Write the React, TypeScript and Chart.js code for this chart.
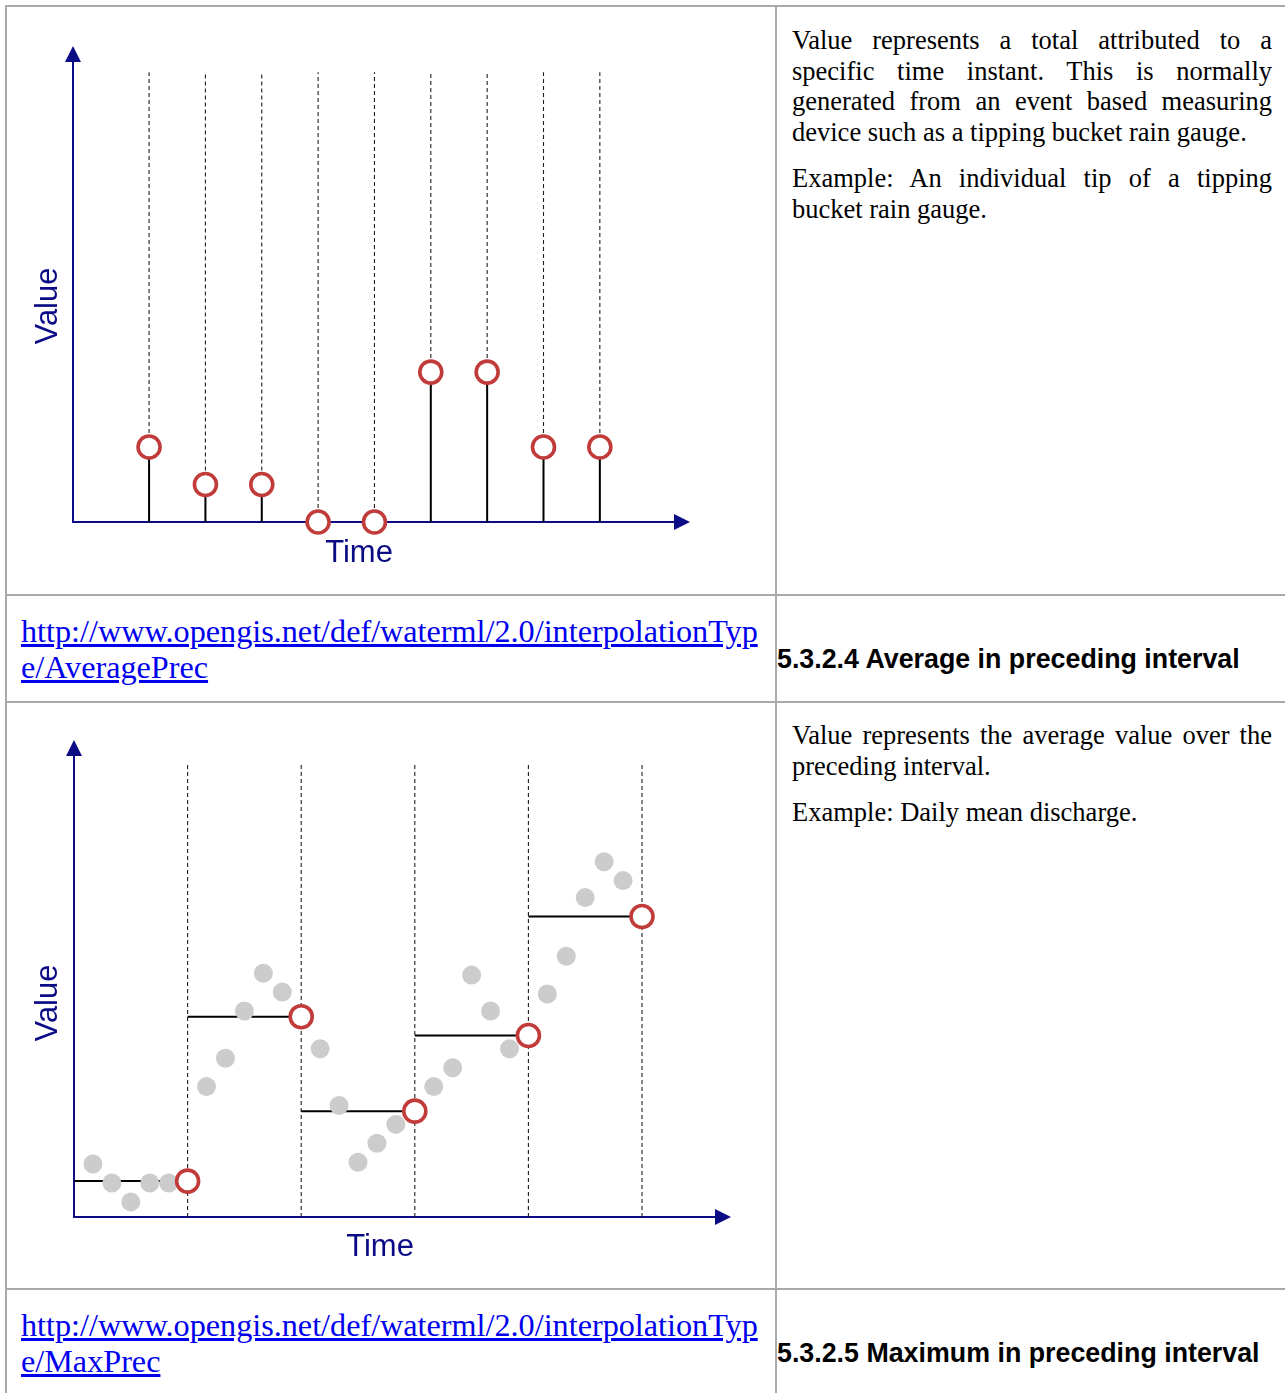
import React, { useEffect, useRef } from "react";
import { Chart, registerables } from "chart.js";

Chart.register(...registerables);

// ---------- Chart 1: instantaneous totals ----------
const tipTimes = [1, 2, 3, 4, 5, 6, 7, 8, 9];
const tipTotals = [2, 1, 1, 0, 0, 4, 4, 2, 2];
const tipGuideTop = 12;

// ---------- Chart 2: average in preceding interval ----------
const sampleTimes = [
  1, 2, 3, 4, 5,
  7, 8, 9, 10, 11,
  13, 14, 15, 16, 17,
  19, 20, 21, 22, 23,
  25, 26, 27, 28, 29,
];
const sampleValues = [
  2.8, 1.8, 0.8, 1.8, 1.8,
  6.9, 8.4, 10.9, 12.9, 11.9,
  8.9, 5.9, 2.9, 3.9, 4.9,
  6.9, 7.9, 12.8, 10.9, 8.9,
  11.8, 13.8, 16.9, 18.8, 17.8,
];
const intervalStarts = [0, 6, 12, 18, 24];
const intervalEnds = [6, 12, 18, 24, 30];
const intervalAverages = [1.9, 10.6, 5.6, 9.6, 15.9];
const intervalGuideTop = 24;

const axisTitleX = "Time";
const axisTitleY = "Value";

const SERIF = "'Liberation Serif', 'Times New Roman', serif";
const SANS = "'Liberation Sans', Arial, sans-serif";
const AXIS_COLOR = "#0b0b86";
const RED = "#c23b3b";
const BORDER = "#a9a9a9";
const GUIDE = "#1e1e1e";

const arrowAxesPlugin = {
  id: "arrowAxes",
  beforeDatasetsDraw(chart: any, _args: any, opts: any) {
    const { ctx, chartArea } = chart;
    const { left, top, right, bottom } = chartArea;
    ctx.save();
    ctx.strokeStyle = AXIS_COLOR;
    ctx.fillStyle = AXIS_COLOR;
    ctx.lineWidth = 2;
    ctx.beginPath();
    ctx.moveTo(left, bottom + 1);
    ctx.lineTo(left, top + 10);
    ctx.moveTo(left - 1, bottom);
    ctx.lineTo(right - 10, bottom);
    ctx.stroke();
    // arrow heads
    ctx.beginPath();
    ctx.moveTo(left, top);
    ctx.lineTo(left - 8, top + 16);
    ctx.lineTo(left + 8, top + 16);
    ctx.closePath();
    ctx.fill();
    ctx.beginPath();
    ctx.moveTo(right, bottom);
    ctx.lineTo(right - 16, bottom - 8);
    ctx.lineTo(right - 16, bottom + 8);
    ctx.closePath();
    ctx.fill();
    // titles
    ctx.font = `31px ${SANS}`;
    ctx.textAlign = "center";
    ctx.textBaseline = "alphabetic";
    ctx.fillText(opts.xTitle, left + opts.xDx, bottom + opts.xDy);
    ctx.save();
    ctx.translate(left + opts.yDx, bottom + opts.yDy);
    ctx.rotate(-Math.PI / 2);
    ctx.textBaseline = "middle";
    ctx.fillText(opts.yTitle, 0, 0);
    ctx.restore();
    ctx.restore();
  },
};

function baseOptions(padding: any, xMin: number, xMax: number, yMax: number, titles: any) {
  return {
    responsive: false,
    animation: false,
    events: [],
    devicePixelRatio: 1,
    layout: { padding },
    scales: {
      x: { type: "linear", min: xMin, max: xMax, display: false },
      y: { type: "linear", min: 0, max: yMax, display: false },
    },
    plugins: {
      legend: { display: false },
      tooltip: { enabled: false },
      arrowAxes: titles,
    },
  };
}

const circleStyle = {
  showLine: false,
  pointRadius: 11,
  pointBorderWidth: 3.6,
  pointBorderColor: RED,
  pointBackgroundColor: "#ffffff",
  clip: false,
};

const guideStyle = {
  showLine: true,
  pointRadius: 0,
  borderColor: GUIDE,
  borderWidth: 1.1,
  borderDash: [4, 3],
  clip: false,
};

function chartOneConfig() {
  const circles = tipTimes.map((t, i) => ({ x: t, y: tipTotals[i] }));
  const stems = tipTimes.flatMap((t, i) => [
    { x: t, y: 0 },
    { x: t, y: tipTotals[i] },
    { x: t, y: null },
  ]);
  const guides = tipTimes.flatMap((t, i) => [
    { x: t, y: tipTotals[i] },
    { x: t, y: tipGuideTop },
    { x: t, y: null },
  ]);
  return {
    type: "scatter",
    data: {
      datasets: [
        { data: circles, ...circleStyle },
        {
          data: stems,
          showLine: true,
          pointRadius: 0,
          borderColor: "#000000",
          borderWidth: 2,
          clip: false,
        },
        { data: guides, ...guideStyle },
      ],
    },
    options: baseOptions({ left: 65, top: 38, right: 85, bottom: 71 }, -0.35, 10.6, 12.7, {
      xTitle: axisTitleX,
      yTitle: axisTitleY,
      xDx: 286,
      xDy: 40,
      yDx: -25,
      yDy: -216,
    }),
    plugins: [arrowAxesPlugin],
  };
}

function chartTwoConfig() {
  const circles = intervalEnds.map((t, i) => ({ x: t, y: intervalAverages[i] }));
  const samples = sampleTimes.map((t, i) => ({ x: t, y: sampleValues[i] }));
  const steps = intervalStarts.flatMap((s, i) => [
    { x: s, y: intervalAverages[i] },
    { x: intervalEnds[i], y: intervalAverages[i] },
    { x: intervalEnds[i], y: null },
  ]);
  const guides = intervalEnds.flatMap((t) => [
    { x: t, y: 0 },
    { x: t, y: intervalGuideTop },
    { x: t, y: null },
  ]);
  return {
    type: "scatter",
    data: {
      datasets: [
        { data: circles, ...circleStyle },
        {
          data: samples,
          showLine: false,
          pointRadius: 9.5,
          pointBorderWidth: 0,
          pointBorderColor: "rgba(0,0,0,0)",
          pointBackgroundColor: "#cccccc",
          clip: false,
        },
        {
          data: steps,
          showLine: true,
          pointRadius: 0,
          borderColor: "#000000",
          borderWidth: 2,
          clip: false,
        },
        { data: guides, ...guideStyle },
      ],
    },
    options: baseOptions({ left: 66, top: 36, right: 44, bottom: 70 }, 0, 34.7, 25.24, {
      xTitle: axisTitleX,
      yTitle: axisTitleY,
      xDx: 306,
      xDy: 39,
      yDx: -26,
      yDy: -214,
    }),
    plugins: [arrowAxesPlugin],
  };
}

function PlotCanvas(props: { make: () => any; left: number; top: number; width: number; height: number }) {
  const ref = useRef<HTMLCanvasElement | null>(null);
  useEffect(() => {
    if (!ref.current) return;
    const chart = new Chart(ref.current, props.make());
    return () => chart.destroy();
  }, []);
  return (
    <canvas
      ref={ref}
      width={props.width}
      height={props.height}
      style={{
        position: "absolute",
        left: props.left,
        top: props.top,
        width: props.width,
        height: props.height,
      }}
    />
  );
}

function HLine({ top }: { top: number }) {
  return <div style={{ position: "absolute", left: 5, top, width: 1300, height: 2, background: BORDER }} />;
}
function VLine({ left }: { left: number }) {
  return <div style={{ position: "absolute", left, top: 5, width: 2, height: 1400, background: BORDER }} />;
}

const bodyText: React.CSSProperties = {
  position: "absolute",
  left: 792,
  width: 480,
  fontFamily: SERIF,
  fontSize: "26.5px",
  lineHeight: "30.5px",
  color: "#000",
  textAlign: "justify",
};
const para: React.CSSProperties = { margin: "0 0 16px 0" };

const linkBox: React.CSSProperties = {
  position: "absolute",
  left: 21,
  fontFamily: SERIF,
  fontSize: "32.2px",
  lineHeight: "36px",
  whiteSpace: "nowrap",
};
const linkStyle: React.CSSProperties = { color: "#0000ee", textDecoration: "underline" };

const heading: React.CSSProperties = {
  position: "absolute",
  left: 777,
  fontFamily: SANS,
  fontWeight: "bold",
  fontSize: "26.8px",
  lineHeight: "30px",
  color: "#000",
  whiteSpace: "nowrap",
};

export default function App() {
  return (
    <div
      style={{
        position: "absolute",
        left: 0,
        top: 0,
        width: 1285,
        height: 1393,
        overflow: "hidden",
        background: "#ffffff",
      }}
    >
      <HLine top={5} />
      <HLine top={594} />
      <HLine top={701} />
      <HLine top={1288} />
      <VLine left={5} />
      <VLine left={775} />

      <PlotCanvas make={chartOneConfig} left={8} top={8} width={767} height={585} />
      <PlotCanvas make={chartTwoConfig} left={8} top={704} width={767} height={583} />

      <div style={{ ...bodyText, top: 25 }}>
        <p style={para}>
          Value represents a total attributed to a specific time instant. This is normally generated from an event
          based measuring device such as a tipping bucket rain gauge.
        </p>
        <p style={para}>Example: An individual tip of a tipping bucket rain gauge.</p>
      </div>

      <div style={{ ...linkBox, top: 613 }}>
        <a style={linkStyle} href="#">
          http://www.opengis.net/def/waterml/2.0/interpolationTyp
          <br />
          e/AveragePrec
        </a>
      </div>
      <div style={{ ...heading, top: 644 }}>5.3.2.4 Average in preceding interval</div>

      <div style={{ ...bodyText, top: 720 }}>
        <p style={para}>Value represents the average value over the preceding interval.</p>
        <p style={para}>Example: Daily mean discharge.</p>
      </div>

      <div style={{ ...linkBox, top: 1307 }}>
        <a style={linkStyle} href="#">
          http://www.opengis.net/def/waterml/2.0/interpolationTyp
          <br />
          e/MaxPrec
        </a>
      </div>
      <div style={{ ...heading, top: 1338 }}>5.3.2.5 Maximum in preceding interval</div>
    </div>
  );
}
